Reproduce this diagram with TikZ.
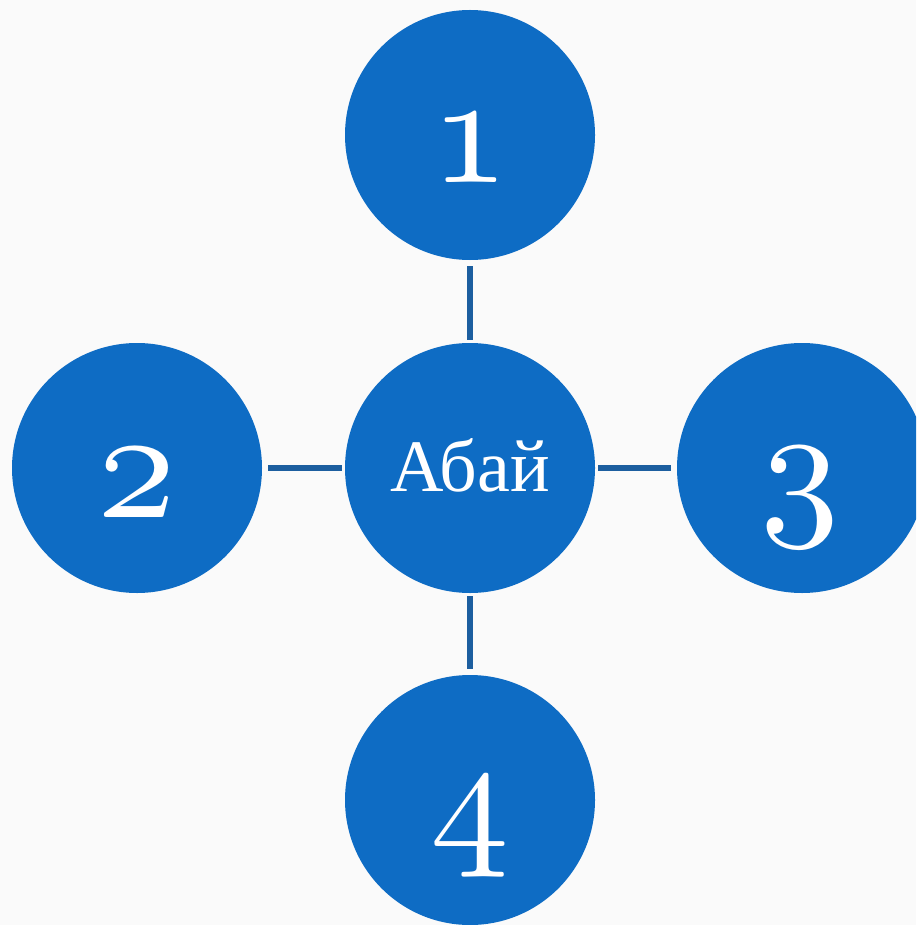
\documentclass[tikz,border=0pt]{standalone}
\usepackage{fontspec}
\newfontfamily\cyrserif{Liberation Serif}
\newcommand\osdigit[1]{\scalebox{15.8}{\usefont{OML}{cmm}{m}{it}\fontsize{10}{10}\selectfont #1}}
\definecolor{circblue}{HTML}{0E6CC4}
\definecolor{lineblue}{HTML}{1C5E9F}
\definecolor{bg}{HTML}{FAFAFA}
\tikzset{
  bubble/.style={circle, fill=circblue, draw=none, minimum size=250pt, inner sep=0pt},
  digit/.style={anchor=base, text=white, inner sep=0pt},
  link/.style={draw=lineblue, line width=5.5pt, shorten <=3pt, shorten >=5.5pt}
}
\begin{document}
\begin{tikzpicture}[x=1pt, y=-1pt]
  \useasboundingbox (0,0) rectangle (916,925);
  \clip (0,0) rectangle (916,925);
  \fill[bg] (0,0) rectangle (916,925);
  \node[bubble] (c) at (470,468) {};
  \node[bubble] (n1) at (470,135) {};
  \node[bubble] (n2) at (137,468) {};
  \node[bubble] (n3) at (802,468) {};
  \node[bubble] (n4) at (470,800) {};
  \draw[link] (c) -- (n1);
  \draw[link] (c) -- (n2);
  \draw[link] (c) -- (n3);
  \draw[link] (c) -- (n4);
  \node[digit] (t0) at (470,491) {\cyrserif\fontsize{74}{74}\selectfont Абай};
  \node[digit] (t1) at (470,183) {\osdigit{1}};
  \node[digit] (t2) at (137,517) {\osdigit{2}};
  \node[digit] (t3) at (800,516) {\osdigit{3}};
  \node[digit] (t4) at (470,846) {\osdigit{4}};
\end{tikzpicture}
\end{document}
